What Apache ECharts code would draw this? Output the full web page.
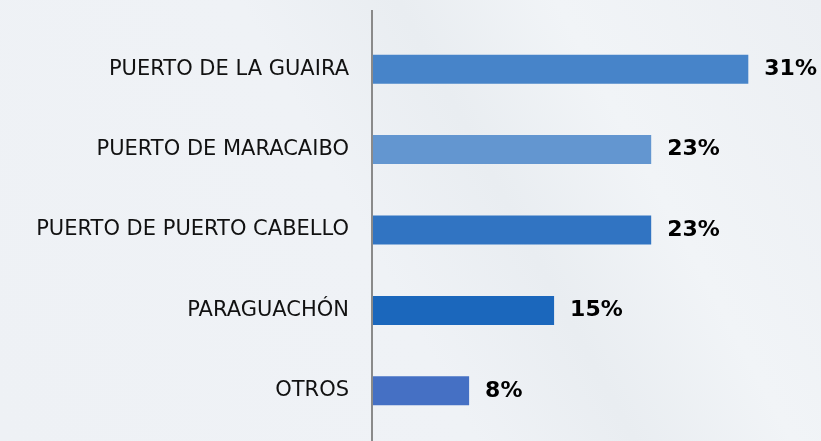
<!DOCTYPE html>
<html>
<head>
<meta charset="utf-8">
<script src="https://cdn.jsdelivr.net/npm/echarts@6/dist/echarts.min.js"></script>
<style>
html,body{margin:0;padding:0;background:#eef2f6;}
#c{width:821px;height:441px;}
</style>
</head>
<body>
<div id="c"></div>
<script>
const categories = ["PUERTO DE LA GUAIRA", "PUERTO DE MARACAIBO", "PUERTO DE PUERTO CABELLO", "PARAGUACHÓN", "OTROS"];
const values = [31, 23, 23, 15, 8];
const barColors = ["#4784c9", "#6396d0", "#3174c2", "#1b67bc", "#4570c4"];

const chart = echarts.init(document.getElementById('c'), null, {renderer: 'canvas'});
chart.setOption({
  backgroundColor: {
    type: 'linear', x: 0, y: 1, x2: 1, y2: 0,
    colorStops: [
      {offset: 0, color: '#eef1f5'},
      {offset: 0.45, color: '#eff2f6'},
      {offset: 0.6, color: '#e9edf1'},
      {offset: 0.75, color: '#f1f4f7'},
      {offset: 1, color: '#eceff3'}
    ]
  },
  animation: false,
  grid: {left: 372, right: 12, top: 29, bottom: 10},
  xAxis: {
    type: 'value', min: 0, max: 36,
    show: false
  },
  yAxis: {
    type: 'category', data: categories, inverse: true,
    axisLine: {show: false},
    axisTick: {show: false},
    axisLabel: {
      margin: 23, color: '#111', fontFamily: 'DejaVu Sans', fontSize: 21
    }
  },
  graphic: [{
    type: 'line', shape: {x1: 372, y1: 10, x2: 372, y2: 441},
    style: {stroke: '#8a8a8a', lineWidth: 2}, z: 10
  }],
  series: [{
    type: 'bar',
    data: values.map((v, i) => ({value: v, itemStyle: {color: barColors[i]}})),
    barWidth: 29,
    label: {
      show: true, position: 'right', distance: 16,
      formatter: p => p.value + '%',
      color: '#000', fontFamily: 'DejaVu Sans', fontWeight: 'bold', fontSize: 22
    }
  }]
});
</script>
</body>
</html>
